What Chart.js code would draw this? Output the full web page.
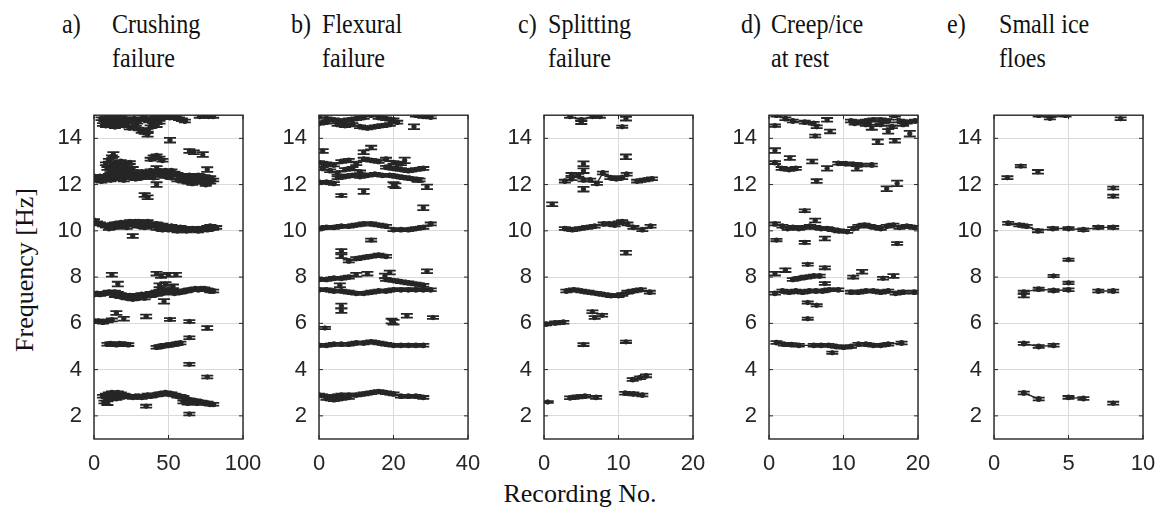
<!DOCTYPE html>
<html><head><meta charset="utf-8">
<script src="https://cdn.jsdelivr.net/npm/chart.js@4.4.1/dist/chart.umd.min.js"></script>
<style>
html,body{margin:0;padding:0;background:#fff;width:1159px;height:511px;overflow:hidden;position:relative}
canvas{position:absolute}
.t{position:absolute;font-family:"Liberation Serif","Times New Roman",serif;font-size:28px;color:#111;line-height:34px;white-space:nowrap;transform-origin:0 0;transform:scaleX(0.86)}
.ax{position:absolute;font-family:"Liberation Serif","Times New Roman",serif;font-size:26px;color:#111;white-space:nowrap}
</style></head><body>
<div class="t" style="left:62px;top:7px">a)</div><div class="t" style="left:112px;top:7px">Crushing<br>failure</div>
<div class="t" style="left:291px;top:7px">b)</div><div class="t" style="left:322px;top:7px">Flexural<br>failure</div>
<div class="t" style="left:518px;top:7px">c)</div><div class="t" style="left:548px;top:7px">Splitting<br>failure</div>
<div class="t" style="left:741px;top:7px">d)</div><div class="t" style="left:771px;top:7px">Creep/ice<br>at rest</div>
<div class="t" style="left:947px;top:7px">e)</div><div class="t" style="left:999px;top:7px">Small ice<br>floes</div>
<div class="ax" style="left:25px;top:270px;transform:translate(-50%,-50%) rotate(-90deg)">Frequency [Hz]</div>
<div class="ax" style="left:580px;top:494px;transform:translate(-50%,-50%)">Recording No.</div>
<script>
// ---------- axis ticks ----------
const yTicks = [2,4,6,8,10,12,14];
const aXTicks = [0,50,100];
const bXTicks = [0,20,40];
const cXTicks = [0,10,20];
const dXTicks = [0,10,20];
const eXTicks = [0,5,10];
const bandErr = 0.06;

// ---------- a) Crushing failure : [recording, frequency] ----------
const a_f15a = [[5,14.85],[7,14.8],[9,14.9],[11,14.75],[13,14.85],[15,14.9],[17,14.8],[19,14.95],[21,14.85],[23,14.75],[25,14.8],[27,14.85],[29,14.7],[31,14.8],[33,14.95],[35,14.85],[37,14.75],[39,14.8],[41,14.9],[43,14.85],[45,14.95],[47,14.9],[49,15.0],[51,14.9],[53,14.95],[55,14.9],[57,14.85],[59,14.8],[61,14.75]];
const a_f15b = [[6,14.6],[8,14.55],[10,14.7],[12,14.65],[14,14.5],[16,14.6],[18,14.7],[20,14.55],[22,14.6],[24,14.45],[26,14.5],[28,14.6],[30,14.4],[32,14.3],[34,14.25],[36,14.35],[38,14.5],[40,14.6],[42,14.55],[44,14.7]];
const a_f15c = [[71,14.95],[74,14.97],[77,14.95],[80,14.95]];
const a_f13a = [[8,12.9],[10,13.05],[12,13.2],[14,12.95],[16,12.85],[18,13.0],[20,12.9],[22,12.8],[24,12.95],[26,12.7]];
const a_f13b = [[9,12.7],[11,12.6],[13,12.75],[15,12.6],[17,12.7],[19,12.55],[21,12.65]];
const a_f13c = [[38,13.1],[40,13.2],[42,13.25],[44,13.15],[46,13.05]];
const a_f12a = [[0,12.35],[2,12.3],[4,12.35],[6,12.3],[8,12.35],[10,12.4],[12,12.3],[14,12.4],[16,12.35],[18,12.4],[20,12.3],[22,12.45],[24,12.4],[26,12.5],[28,12.45],[30,12.4],[32,12.55],[34,12.5],[36,12.45],[38,12.6],[40,12.5],[42,12.55],[44,12.6],[46,12.5],[48,12.6],[50,12.55],[52,12.6],[54,12.5],[56,12.45],[58,12.4],[60,12.3],[62,12.35],[64,12.4],[66,12.3],[68,12.35],[70,12.4],[72,12.3],[74,12.35],[76,12.25],[78,12.3],[80,12.2]];
const a_f12b = [[2,12.2],[5,12.15],[8,12.25],[11,12.2],[14,12.25],[17,12.3],[20,12.2],[24,12.3],[28,12.25],[32,12.3],[36,12.35],[40,12.3],[44,12.4],[48,12.35],[52,12.3],[56,12.2],[60,12.15],[63,12.1],[66,12.05],[69,12.15],[72,12.1],[75,12.0],[78,12.1]];
const a_f10a = [[0,10.45],[2,10.35],[4,10.3],[6,10.25],[8,10.2],[10,10.25],[12,10.2],[14,10.3],[16,10.3],[18,10.35],[20,10.3],[22,10.35],[24,10.4],[26,10.35],[28,10.4],[30,10.4],[32,10.35],[34,10.3],[36,10.4],[38,10.3],[40,10.25],[42,10.3],[44,10.2],[46,10.25],[48,10.2],[50,10.15],[52,10.2],[54,10.15],[56,10.1],[58,10.15],[60,10.1],[62,10.1],[64,10.05],[66,10.1],[68,10.05],[70,10.1],[72,10.05],[74,10.1],[76,10.15],[78,10.2],[80,10.1],[82,10.15]];
const a_f10b = [[10,10.1],[14,10.15],[18,10.2],[22,10.15],[26,10.25],[30,10.2],[34,10.15],[38,10.2],[42,10.1],[46,10.05],[50,10.05],[56,10.0],[62,10.0],[70,10.0],[76,10.05]];
const a_f7a = [[0,7.25],[2,7.3],[4,7.25],[6,7.3],[8,7.3],[10,7.35],[12,7.3],[14,7.35],[16,7.3],[18,7.25],[20,7.2],[22,7.15],[24,7.2],[26,7.15],[28,7.2],[30,7.2],[32,7.25],[34,7.2],[36,7.25],[38,7.3],[40,7.3],[42,7.35],[44,7.4],[46,7.45],[48,7.4],[50,7.45],[52,7.4],[54,7.4],[56,7.35],[58,7.35],[60,7.4],[62,7.4],[64,7.45],[66,7.45],[68,7.5],[70,7.45],[72,7.5],[74,7.5],[76,7.45],[78,7.4],[80,7.4]];
const a_f7b = [[14,7.2],[18,7.15],[22,7.1],[26,7.05],[30,7.1],[34,7.1],[38,7.2],[42,7.25],[46,7.3],[50,7.35],[54,7.3]];
const a_f6 = [[0,6.1],[3,6.1],[6,6.05],[9,6.1],[12,6.15]];
const a_f5a = [[9,5.1],[11,5.12],[13,5.1],[15,5.08],[17,5.12],[19,5.1],[21,5.1],[23,5.08]];
const a_f5b = [[42,4.97],[44,5.0],[46,5.02],[48,5.05],[50,5.05],[52,5.08],[54,5.1],[56,5.12],[58,5.15]];
const a_f3a = [[6,2.85],[8,2.9],[10,2.95],[12,3.0],[14,2.95],[16,3.0],[18,2.95],[20,2.9],[22,2.85],[24,2.85],[26,2.8],[28,2.85],[30,2.85],[32,2.8],[34,2.85],[36,2.9],[38,2.85],[40,2.9],[42,2.9],[44,2.95],[46,2.95],[48,3.0],[50,2.95],[52,2.95],[54,2.9],[56,2.85],[58,2.85],[60,2.8],[62,2.7],[64,2.7],[66,2.65],[68,2.65],[70,2.6],[72,2.6],[74,2.55],[76,2.55],[78,2.5],[80,2.5]];
const a_f3b = [[7,2.6],[9,2.7],[11,2.75],[13,2.8],[15,2.75],[17,2.8],[19,2.85]];
const a_f3c = [[60,2.6],[63,2.55],[66,2.6],[69,2.55]];
// isolated estimates: [recording, frequency, half error]
const aSingles = [[36,14.15,0.08],[51,13.92,0.1],[13,13.3,0.1],[64,13.45,0.08],[67,13.4,0.08],[73,13.3,0.1],[76,12.65,0.1],[42,12.7,0.1],[42,12.0,0.1],[34,11.55,0.08],[36,11.45,0.08],[26,9.78,0.08],[12,8.1,0.08],[42,8.15,0.08],[45,8.05,0.08],[50,8.1,0.08],[55,8.1,0.08],[16,7.7,0.1],[44,7.65,0.08],[48,7.7,0.08],[53,7.6,0.08],[47,6.95,0.1],[15,6.45,0.08],[20,6.2,0.08],[35,6.3,0.08],[51,6.17,0.06],[64,6.08,0.06],[76,5.8,0.08],[64,5.38,0.06],[64,4.23,0.06],[76,3.68,0.06],[35,2.42,0.06],[64,2.08,0.06],[9,2.55,0.08]];

// ---------- b) Flexural failure ----------
const b_f15a = [[0,14.95],[2,14.85],[4,14.8],[6,14.75],[8,14.8],[10,14.85],[12,14.9],[14,15.0],[16,14.9],[18,14.85],[20,14.8]];
const b_f15b = [[0,14.65],[2,14.7],[5,14.6],[7,14.55],[9,14.6],[11,14.5],[13,14.45],[15,14.5],[17,14.55],[19,14.6],[21,14.7]];
const b_f15c = [[26,15.0],[28,14.95],[30,14.92]];
const b_f13a = [[0,12.95],[2,12.9],[4,12.85],[6,13.0],[8,13.05],[10,12.9],[12,13.1],[14,13.05],[16,13.0],[18,13.1],[20,12.95],[22,12.9]];
const b_f13b = [[1,12.7],[3,12.6],[5,12.5],[7,12.65],[9,12.7],[11,12.55]];
const b_f13c = [[18,12.75],[20,12.7],[22,12.65],[24,12.6],[26,12.65],[28,12.7]];
const b_f12a = [[5,12.3],[7,12.35],[9,12.4],[11,12.35],[13,12.4],[15,12.45],[17,12.4],[19,12.4],[21,12.35],[23,12.3],[25,12.25],[27,12.2]];
const b_f12b = [[0,12.1],[2,12.1],[4,12.05]];
const b_f10 = [[0,10.1],[2,10.15],[4,10.15],[6,10.2],[8,10.2],[10,10.25],[12,10.3],[14,10.3],[16,10.25],[18,10.2],[20,10.05],[22,10.05],[24,10.05],[26,10.1],[28,10.15],[30,10.3]];
const b_f9 = [[8,8.7],[10,8.8],[12,8.85],[14,8.9],[16,8.95],[18,8.9]];
const b_f8a = [[0,7.9],[2,7.9],[4,7.95],[6,7.95],[8,8.0]];
const b_f8b = [[18,7.9],[20,7.85],[22,7.8],[24,7.75],[26,7.7],[28,7.65]];
const b_f7 = [[0,7.45],[2,7.45],[4,7.4],[6,7.4],[8,7.35],[10,7.3],[12,7.3],[14,7.35],[16,7.4],[18,7.4],[20,7.45],[22,7.45],[24,7.45],[26,7.45],[28,7.45],[30,7.45]];
const b_f5 = [[0,5.05],[2,5.05],[4,5.1],[6,5.1],[8,5.1],[10,5.15],[12,5.15],[14,5.2],[16,5.15],[18,5.1],[20,5.05],[22,5.05],[24,5.05],[26,5.05],[28,5.05]];
const b_f3a = [[0,2.9],[2,2.85],[4,2.85],[6,2.9],[8,2.9],[10,2.9],[12,2.95],[14,3.0],[16,3.05],[18,3.0],[20,2.95],[22,2.85],[24,2.85],[26,2.85],[28,2.8]];
const b_f3b = [[2,2.75],[4,2.7],[6,2.75],[8,2.8]];
const bSingles = [[25.5,14.5,0.1],[1,13.45,0.08],[12,13.4,0.08],[14,13.6,0.08],[23,13.05,0.12],[20,12.0,0.1],[20.5,11.95,0.1],[26.5,12.2,0.08],[29,11.9,0.1],[12,11.7,0.1],[6,11.53,0.06],[28,11.0,0.1],[14,9.6,0.06],[6,9.13,0.08],[6,8.9,0.08],[5.6,7.65,0.08],[10,8.1,0.08],[13,8.15,0.08],[17.7,8.05,0.1],[19,8.2,0.08],[29,8.25,0.08],[6,6.75,0.1],[6,6.55,0.1],[20,6.05,0.1],[19.5,6.1,0.1],[23.6,6.33,0.08],[30.6,6.25,0.06],[1.6,5.8,0.05]];

// ---------- c) Splitting failure ----------
const c_f15 = [[3.5,14.95],[5,14.8],[6.5,14.95],[7.5,14.95]];
const c_f12a = [[2.8,12.15],[3.7,12.25],[4.6,12.4],[5.3,12.2]];
const c_f12b = [[6.2,12.2],[7.1,12.05],[7.9,12.5],[8.9,12.3],[9.7,12.25],[10.5,12.3],[11.1,12.45]];
const c_f12c = [[12.5,12.15],[13.5,12.2],[14.5,12.25]];
const c_f10a = [[2.8,10.1],[3.8,10.05],[4.8,10.1],[5.8,10.15],[6.8,10.2]];
const c_f10b = [[8,10.3],[8.8,10.3],[9.5,10.25],[10,10.35],[10.5,10.4],[11.2,10.3],[12,10.15],[13.2,10.05],[14.3,10.2]];
const c_f7a = [[3,7.4],[4,7.45],[5,7.4],[6,7.35],[7,7.3]];
const c_f7b = [[8,7.25],[9,7.2],[10,7.2],[10.5,7.25],[11.2,7.35],[12,7.4],[13,7.45],[14.2,7.35]];
const c_f6 = [[0.3,5.97],[1.5,6.02],[2.6,6.05]];
const c_f4 = [[11.9,3.57],[12.9,3.65],[13.7,3.73]];
const c_f3a = [[3.5,2.78],[4.5,2.82],[5.5,2.85],[7,2.8]];
const c_f3b = [[10.9,2.98],[12,2.95],[13.2,2.9]];
const cSingles = [[5,14.7,0.08],[11,14.85,0.08],[10.5,14.5,0.05],[11,13.2,0.1],[5.3,12.9,0.1],[5.3,12.6,0.1],[3.7,12.44,0.06],[5.3,11.8,0.1],[1.1,11.15,0.08],[11,9.05,0.08],[6.5,6.5,0.06],[6.8,6.25,0.06],[7.8,6.35,0.06],[5.3,5.08,0.06],[11,5.2,0.05],[0.5,2.6,0.04]];

// ---------- d) Creep / ice at rest ----------
const d_f15a = [[1,15.0],[2.2,14.85],[3.2,14.75],[4.8,14.7],[6,14.65]];
const d_f15b = [[11,14.75],[12,14.7],[13,14.75],[14,14.8],[15,14.8],[16,14.75],[16.9,15.0],[17.5,14.75],[18.5,14.7],[19.6,14.75]];
const d_f15c = [[11.5,14.65],[13,14.6],[15,14.6],[16.5,14.5],[18,14.6]];
const d_f13a = [[0.8,12.95],[1.7,12.7],[2.7,12.65],[3.6,12.7]];
const d_f13b = [[9.3,12.92],[10.3,12.9],[11.3,12.88],[12.3,12.85],[13.8,12.85]];
const d_f10 = [[0.8,10.3],[1.8,10.2],[2.5,10.1],[3.2,10.15],[4,10.1],[4.8,10.15],[5.5,10.2],[6.2,10.15],[7,10.1],[7.8,10.1],[8.6,10.05],[9.4,10.0],[10.5,9.97],[11.3,10.1],[12,10.2],[12.8,10.25],[13.5,10.2],[14.3,10.15],[15,10.1],[15.8,10.2],[16.7,10.25],[17.5,10.15],[18.5,10.2],[19.5,10.15]];
const d_f8 = [[3.2,7.9],[4.1,7.95],[5,8.0],[6,8.05],[6.8,8.05]];
const d_f7a = [[0.8,7.3],[1.8,7.4],[2.7,7.35],[3.6,7.4],[4.5,7.35],[5.4,7.4],[6.3,7.4],[7.2,7.4],[8.1,7.45],[9.3,7.45]];
const d_f7b = [[11,7.35],[12,7.35],[13,7.4],[14,7.4],[15,7.35],[16,7.4],[17,7.3],[18,7.35],[19.5,7.35]];
const d_f5 = [[1,5.17],[2,5.1],[3,5.08],[4,5.05],[6,5.05],[7,5.05],[8,5.05],[9,5.0],[10,4.97],[11,5.0],[12,5.1],[13,5.1],[14,5.05],[15,5.05],[16,5.1],[17.8,5.15]];
const dSingles = [[0.8,14.55,0.05],[7.8,14.8,0.08],[6.4,14.5,0.06],[8.2,14.3,0.08],[6.2,14.1,0.06],[13.8,14.45,0.08],[16,14.3,0.1],[14.6,13.85,0.1],[16.9,13.9,0.08],[18.9,14.2,0.12],[0.8,13.47,0.1],[2.8,13.15,0.08],[5.8,13.0,0.08],[7.8,12.7,0.1],[11.8,12.7,0.1],[6.4,12.15,0.08],[15.8,11.82,0.1],[17.2,12.05,0.12],[4.8,10.87,0.06],[6.2,10.45,0.08],[1,9.6,0.05],[4.8,9.5,0.06],[7.5,9.67,0.08],[17.2,9.45,0.06],[5.2,8.55,0.05],[7.5,8.4,0.06],[2.2,8.3,0.08],[0.8,8.15,0.08],[7.5,7.72,0.06],[11.3,8.0,0.06],[12.5,8.23,0.08],[15.3,7.95,0.06],[16.7,8.05,0.08],[5.2,6.9,0.05],[6.4,6.78,0.05],[5.2,6.2,0.05],[8.5,4.73,0.05]];

// ---------- e) Small ice floes ----------
const e_f15 = [[3.0,15.0],[3.75,14.88],[4.8,15.0]];
const e_f10 = [[0.95,10.33],[1.7,10.25],[2.2,10.2],[2.95,10.0],[3.95,10.1],[5,10.1],[6,10.05],[7,10.15],[8,10.15]];
const e_f7a = [[2,7.35],[3,7.48],[4,7.42],[5,7.45]];
const e_f7b = [[7,7.4],[8,7.4]];
const e_f5 = [[2,5.13],[3,5.0],[4,5.05]];
const e_f3a = [[2,2.99],[3,2.73]];
const e_f3b = [[5,2.8],[6,2.75]];
const eSingles = [[8.5,14.85,0.06],[0.9,12.3,0.06],[1.8,12.8,0.05],[2.95,12.55,0.08],[8,11.85,0.06],[8,11.5,0.06],[5,8.75,0.05],[4,8.05,0.05],[5,7.75,0.05],[2,7.2,0.08],[8,2.55,0.06]];

// ---------- drawing ----------
const INK = '#262626';
const GRID = '#dadada';
const panels = [
  {left:94,  xMax:100, xTicks:aXTicks, bands:[a_f15a,a_f15b,a_f15c,a_f13a,a_f13b,a_f13c,a_f12a,a_f12b,a_f10a,a_f10b,a_f7a,a_f7b,a_f6,a_f5a,a_f5b,a_f3a,a_f3b,a_f3c], singles:aSingles},
  {left:319, xMax:40,  xTicks:bXTicks, bands:[b_f15a,b_f15b,b_f15c,b_f13a,b_f13b,b_f13c,b_f12a,b_f12b,b_f10,b_f9,b_f8a,b_f8b,b_f7,b_f5,b_f3a,b_f3b], singles:bSingles},
  {left:544, xMax:20,  xTicks:cXTicks, bands:[c_f15,c_f12a,c_f12b,c_f12c,c_f10a,c_f10b,c_f7a,c_f7b,c_f6,c_f4,c_f3a,c_f3b], singles:cSingles},
  {left:769, xMax:20,  xTicks:dXTicks, bands:[d_f15a,d_f15b,d_f15c,d_f13a,d_f13b,d_f10,d_f8,d_f7a,d_f7b,d_f5], singles:dSingles},
  {left:994, xMax:10,  xTicks:eXTicks, bands:[e_f15,e_f10,e_f7a,e_f7b,e_f5,e_f3a,e_f3b], singles:eSingles}
];

const errorBars = {
  id:'errorBars',
  afterDatasetsDraw(chart){
    const {ctx, chartArea:a, scales:{y}} = chart;
    ctx.save();
    ctx.beginPath(); ctx.rect(a.left, a.top, a.width, a.height); ctx.clip();
    ctx.strokeStyle = INK; ctx.lineWidth = 1.8;
    chart.data.datasets.forEach((ds, di) => {
      const meta = chart.getDatasetMeta(di);
      meta.data.forEach((el, i) => {
        const r = ds.data[i];
        const y1 = y.getPixelForValue(r.y + r.e), y2 = y.getPixelForValue(r.y - r.e);
        ctx.beginPath();
        ctx.moveTo(el.x, y1); ctx.lineTo(el.x, y2);
        ctx.moveTo(el.x - 6, y1); ctx.lineTo(el.x + 6, y1);
        ctx.moveTo(el.x - 6, y2); ctx.lineTo(el.x + 6, y2);
        ctx.stroke();
      });
    });
    ctx.restore();
  }
};
const frame = {
  id:'frame',
  afterDraw(chart){
    const {ctx, chartArea:a, scales:{x, y}} = chart;
    ctx.save();
    ctx.strokeStyle = INK; ctx.lineWidth = 1.4;
    ctx.strokeRect(a.left, a.top, a.width, a.height);
    ctx.lineWidth = 1;
    ctx.beginPath();
    y.ticks.forEach(t => { const p = y.getPixelForValue(t.value);
      ctx.moveTo(a.left, p); ctx.lineTo(a.left + 4, p);
      ctx.moveTo(a.right, p); ctx.lineTo(a.right - 4, p); });
    x.ticks.forEach(t => { const p = x.getPixelForValue(t.value);
      ctx.moveTo(p, a.bottom); ctx.lineTo(p, a.bottom - 4);
      ctx.moveTo(p, a.top); ctx.lineTo(p, a.top + 4); });
    ctx.stroke();
    ctx.restore();
  }
};

const tickFont = {family:'"Liberation Sans", Arial, sans-serif', size:22};
panels.forEach(p => {
  const cv = document.createElement('canvas');
  cv.width = 240; cv.height = 390;
  cv.style.left = (p.left - 60) + 'px'; cv.style.top = '90px';
  cv.style.width = '240px'; cv.style.height = '390px';
  document.body.appendChild(cv);
  const datasets = p.bands.map(b => ({
    data: b.map(q => ({x:q[0], y:q[1], e: q.length > 2 ? q[2] : bandErr})),
    showLine:true, borderColor:INK, backgroundColor:INK, borderWidth:1.4,
    pointRadius:2.2, pointHoverRadius:0, tension:0
  }));
  datasets.push({
    data: p.singles.map(q => ({x:q[0], y:q[1], e:q[2]})),
    showLine:false, borderColor:INK, backgroundColor:INK, pointRadius:2.2, pointHoverRadius:0
  });
  new Chart(cv, {
    type:'line',
    data:{datasets},
    plugins:[errorBars, frame],
    options:{
      responsive:false, animation:false, events:[],
      plugins:{legend:{display:false}, tooltip:{enabled:false}},
      layout:{padding:{left:0, top:9, right:31, bottom:0}},
      scales:{
        x:{type:'linear', min:0, max:p.xMax,
           afterBuildTicks: s => { s.ticks = p.xTicks.map(v => ({value:v})); },
           afterFit: s => { s.height = 41; },
           grid:{color:GRID, lineWidth:1, drawTicks:false},
           border:{display:false},
           ticks:{font:tickFont, color:INK, padding:12, maxRotation:0, autoSkip:false}},
        y:{type:'linear', min:1, max:15,
           afterBuildTicks: s => { s.ticks = yTicks.map(v => ({value:v})); },
           afterFit: s => { s.width = 60; },
           grid:{color:GRID, lineWidth:1, drawTicks:false},
           border:{display:false},
           ticks:{font:tickFont, color:INK, padding:12, autoSkip:false}}
      }
    }
  });
});
</script>
</body></html>
